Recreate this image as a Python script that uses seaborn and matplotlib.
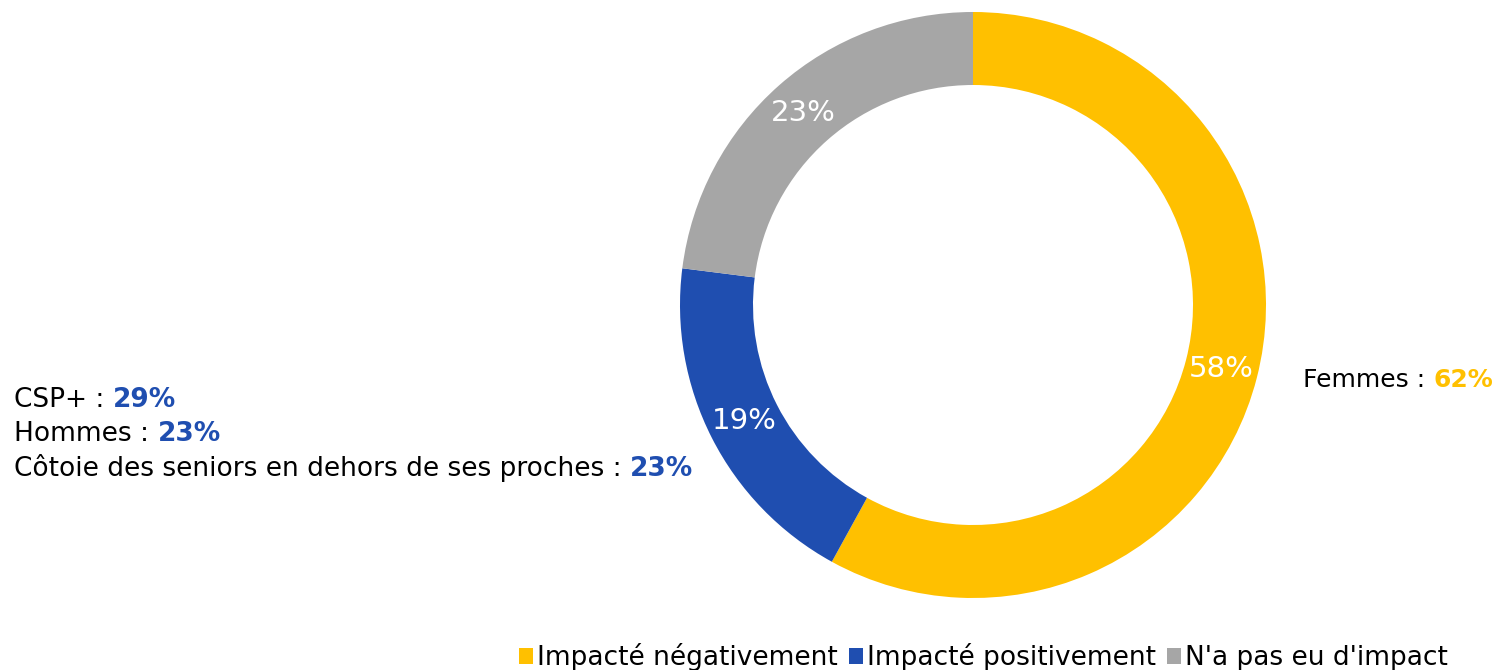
import matplotlib.pyplot as plt
import seaborn as sns
from matplotlib.patches import Patch

# données
categories = ["Impacté négativement", "Impacté positivement", "N'a pas eu d'impact"]
parts = [58, 19, 23]
couleurs = ["#FFC000", "#1F4EB0", "#A6A6A6"]

gauche_libelles = ["CSP+ : ", "Hommes : ", "Côtoie des seniors en dehors de ses proches : "]
gauche_valeurs = ["29%", "23%", "23%"]
droite_libelle = "Femmes : "
droite_valeur = "62%"

sns.set_theme(style="white")
plt.rcParams['font.family'] = ['DejaVu Sans']

W, H = 1499, 670
fig = plt.figure(figsize=(W / 100, H / 100), dpi=100)
ax = fig.add_axes([0, 0, 1, 1])

palette = sns.color_palette(couleurs)
wedges, texts, autotexts = ax.pie(
    parts,
    colors=palette,
    startangle=90,
    counterclock=False,
    center=(973, H - 305),
    radius=293,
    wedgeprops=dict(width=73, linewidth=0),
    autopct=lambda p: f"{p:.0f}%",
    pctdistance=0.875,
    textprops=dict(color="white", fontsize=21),
)
ax.set_xlim(0, W)
ax.set_ylim(0, H)
ax.set_aspect("equal")
ax.axis("off")


def texte_mixte(x, y, libelle, valeur, couleur, taille=18):
    t = ax.text(x, y, libelle, fontsize=taille, color="black", ha="left", va="center")
    ax.annotate(valeur, xy=(1, 0), xycoords=t, ha="left", va="bottom",
                fontsize=taille, fontweight="bold", color=couleur)


# annotations à gauche
for i, (lib, val) in enumerate(zip(gauche_libelles, gauche_valeurs)):
    texte_mixte(14, H - (400 + 34 * i), lib, val, couleurs[1], taille=19)

# annotation à droite
texte_mixte(1303, H - 380, droite_libelle, droite_valeur, couleurs[0], taille=18)

# légende
poignees = [Patch(facecolor=c, edgecolor="none") for c in couleurs]
leg = fig.legend(poignees, categories, loc="center right", bbox_to_anchor=(1448 / W, 1 - 657 / H),
                 ncol=3, frameon=False, fontsize=19, handlelength=0.55, handleheight=0.55,
                 handletextpad=0.15, columnspacing=0.4, borderpad=0, borderaxespad=0)
for t in leg.get_texts():
    t.set_color("black")

fig.savefig("out.png", dpi=100)
